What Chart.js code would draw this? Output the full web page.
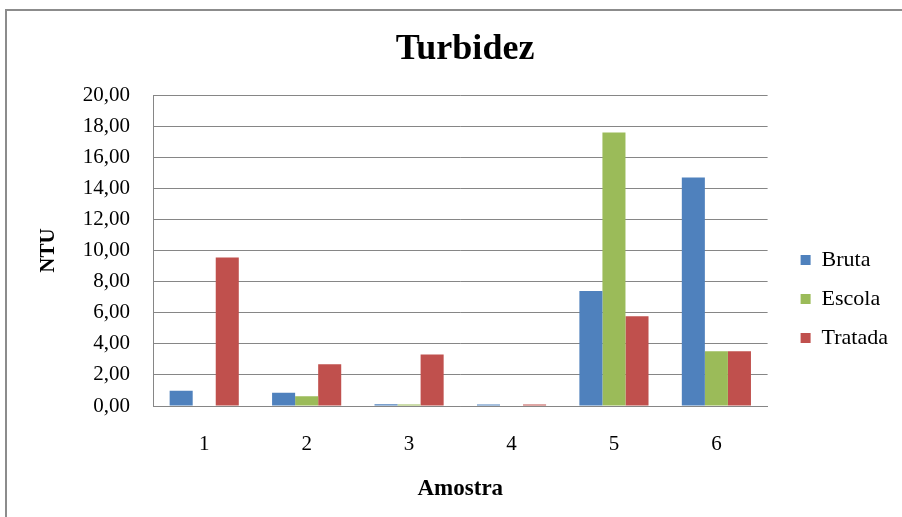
<!DOCTYPE html>
<html><head><meta charset="utf-8">
<script src="https://cdn.jsdelivr.net/npm/chart.js@4"></script>
<style>
html,body{margin:0;padding:0;background:#fff;}
#wrap{position:absolute;left:0;top:0;width:902px;height:517px;}
#frame{position:absolute;left:5px;top:9px;width:900px;height:520px;border:2px solid #8c8c8c;box-sizing:border-box;}
canvas{position:absolute;left:0;top:0;}
</style></head>
<body>
<div id="wrap"><div id="frame"></div><canvas id="c" width="902" height="517"></canvas></div>
<script>
const categories = ["1","2","3","4","5","6"];
const bruta = [0.98, 0.86, 0.11, 0.10, 7.40, 14.70];
const escola = [0.0, 0.62, 0.10, 0.0, 17.60, 3.52];
const tratada = [9.55, 2.68, 3.32, 0.10, 5.77, 3.52];
const seriesNames = ["Bruta","Escola","Tratada"];
const colors = ["#4f81bd","#9bbb59","#c0504d"];

const serif = "'Liberation Serif','Times New Roman',serif";
new Chart(document.getElementById('c'), {
  type:'bar',
  data:{
    labels:categories,
    datasets:[
      {label:seriesNames[0],data:bruta,backgroundColor:colors[0]},
      {label:seriesNames[1],data:escola,backgroundColor:colors[1]},
      {label:seriesNames[2],data:tratada,backgroundColor:colors[2]}
    ]
  },
  options:{
    responsive:false,animation:false,
    datasets:{bar:{barPercentage:1,categoryPercentage:0.675}},
    layout:{padding:{left:32,right:4,top:16,bottom:10}},
    plugins:{
      title:{display:true,text:'Turbidez',color:'#000',font:{family:serif,size:36,weight:'bold'},padding:{top:12,bottom:24}},
      legend:{position:'right',align:'center',
        title:{display:true,text:' ',font:{size:1},padding:{top:37,bottom:37}},
        labels:{color:'#000',font:{family:serif,size:22},boxWidth:10,boxHeight:10,padding:17}},
      tooltip:{enabled:false}
    },
    scales:{
      x:{
        afterFit:(s)=>{s.height=101;},
        grid:{display:false,drawTicks:false},
        border:{color:'#868686',width:1},
        ticks:{color:'#000',font:{family:serif,size:21},padding:26},
        title:{display:true,text:'Amostra',color:'#000',font:{family:serif,size:23,weight:'bold'},padding:{top:18,bottom:4}}
      },
      y:{
        min:0,max:20,
        afterFit:(s)=>{s.width=121;},
        ticks:{stepSize:2,autoSkip:false,color:'#000',font:{family:serif,size:21},padding:23,
          callback:(v)=>v.toFixed(2).replace('.',',')},
        grid:{color:'#868686',drawTicks:false},
        border:{color:'#868686',width:1},
        title:{display:true,text:'NTU',color:'#000',font:{family:serif,size:21,weight:'bold'},padding:{top:4,bottom:4}}
      },
      gap:{
        type:'linear',position:'right',display:true,
        grid:{display:false,drawTicks:false},border:{display:false},ticks:{display:false},
        afterFit:(s)=>{s.width=16;}
      }
    }
  }
});
</script>
</body></html>
